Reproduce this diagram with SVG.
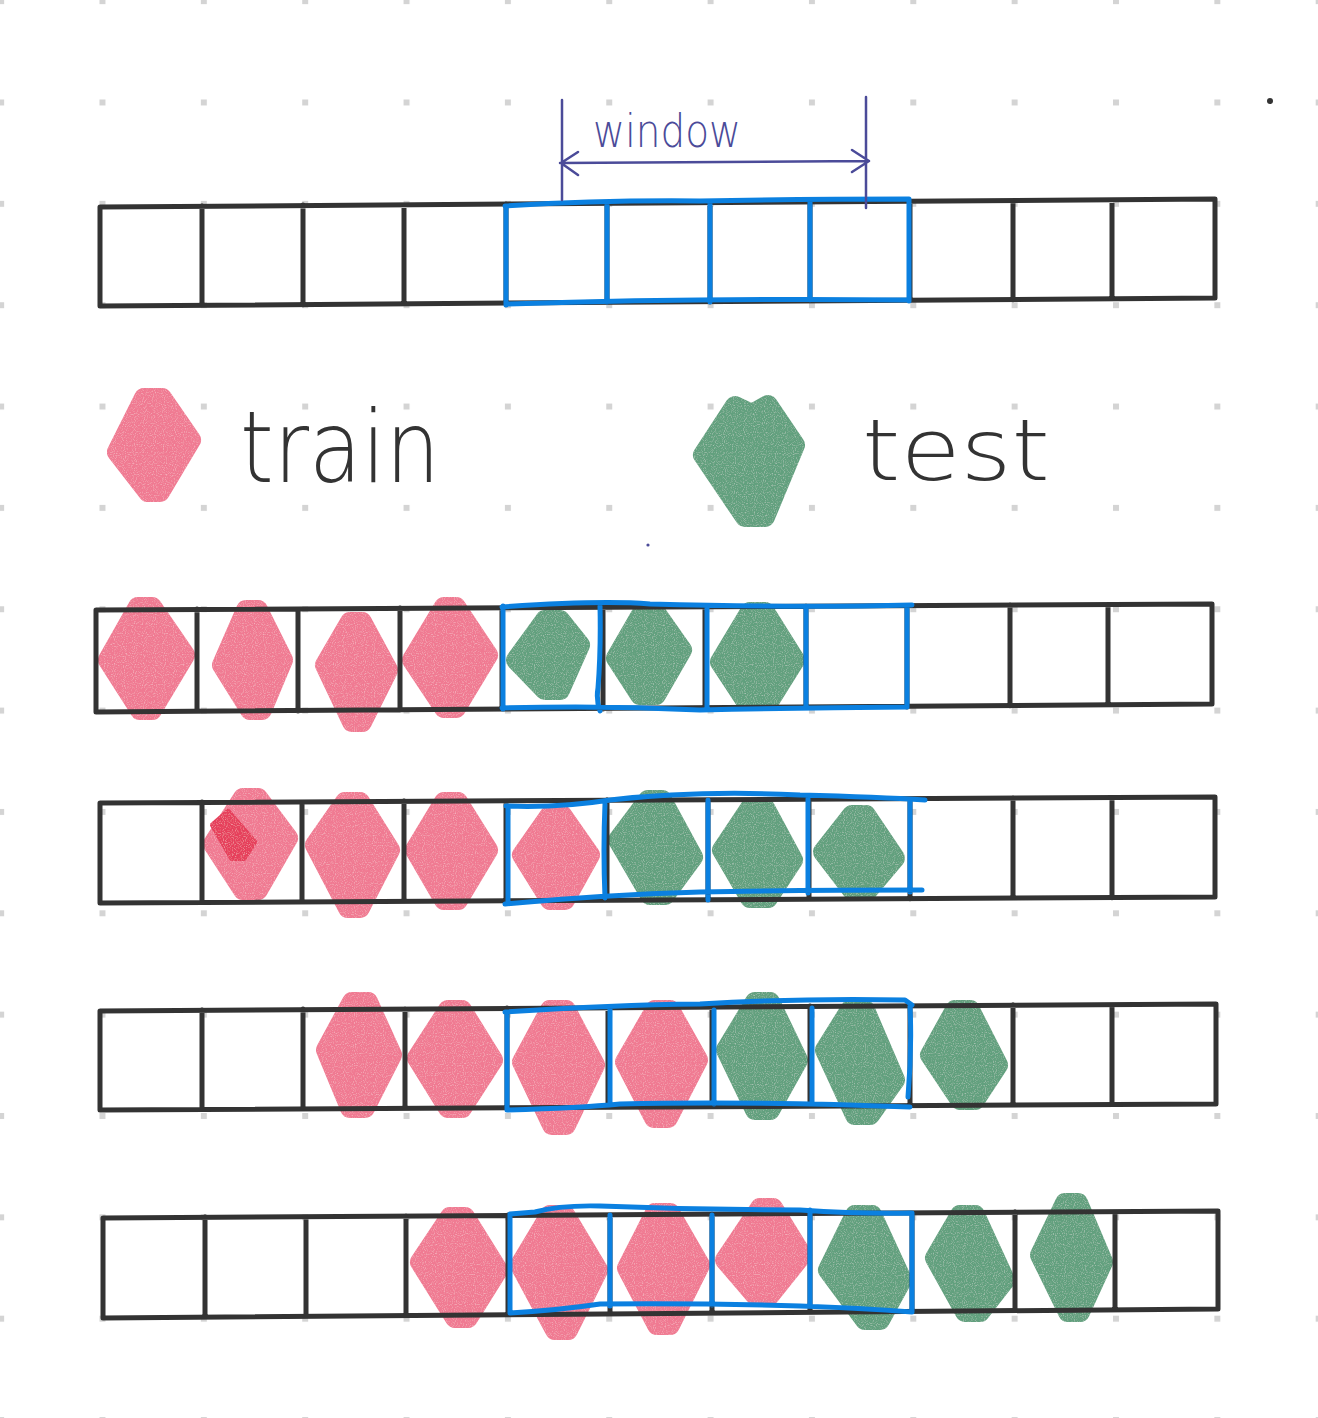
<svg xmlns="http://www.w3.org/2000/svg" width="1318" height="1418" viewBox="0 0 1318 1418">
<style>
.pink{fill:#f07a92;stroke:#f07a92;stroke-width:20;stroke-linejoin:round}
.green{fill:#62a07e;stroke:#62a07e;stroke-width:20;stroke-linejoin:round}
.grid{fill:none;stroke:#333;stroke-width:5;stroke-linecap:round;stroke-linejoin:round}
.win{fill:none;stroke:#0b80e0;stroke-width:5;stroke-linecap:round;stroke-linejoin:round}
.anno{fill:none;stroke:#4b4b99;stroke-width:2.5;stroke-linecap:round;stroke-linejoin:round}
.hand{font-family:"DejaVu Sans","Liberation Sans",sans-serif;font-weight:200;fill:#333}
</style>
<defs>
<pattern id="dots" patternUnits="userSpaceOnUse" x="-1.85" y="-1.85" width="101.35" height="101.35">
<rect x="0" y="0" width="6" height="6" fill="#d4d4d4"/>
</pattern>
<filter id="grain" filterUnits="userSpaceOnUse" x="0" y="0" width="1318" height="1418">
<feTurbulence type="fractalNoise" baseFrequency="0.9" numOctaves="1" seed="3" result="n"/>
<feColorMatrix in="n" type="matrix" values="0 0 0 0 1  0 0 0 0 1  0 0 0 0 1  0.9 0 0 0 -0.45" result="w"/>
<feComposite in="w" in2="SourceGraphic" operator="in" result="ws"/>
<feMerge><feMergeNode in="SourceGraphic"/><feMergeNode in="ws"/></feMerge>
</filter>
</defs>
<rect width="1318" height="1418" fill="#fff"/>
<rect width="1318" height="1418" fill="url(#dots)"/>

<g id="legend">
<g filter="url(#grain)">
<path class="pink" d="M117 452 L144 398 L162 398 L191 440 L160 492 L148 492 Z"/>
<path class="green" d="M703 455 L735 406 L752 414 L768 405 L795 445 L765 517 L745 517 Z"/>
</g>
<text class="hand" x="240" y="482" font-size="100" textLength="200" lengthAdjust="spacingAndGlyphs">train</text>
<text class="hand" x="862" y="480" font-size="85" textLength="188" lengthAdjust="spacingAndGlyphs">test</text>
</g>

<g id="blobs" filter="url(#grain)">
<path class="pink" d="M108 660 L138 607 L152 607 L185 655 L152 710 L140 710 Z"/>
<path class="pink" d="M222 665 L246 610 L258 610 L283 660 L262 710 L250 710 Z"/>
<path class="pink" d="M325 665 L350 622 L362 622 L388 670 L362 722 L352 722 Z"/>
<path class="pink" d="M412 660 L444 607 L456 607 L488 655 L456 708 L444 708 Z"/>
<path class="green" d="M516 660 L545 620 L560 620 L580 645 L560 690 L545 690 Z"/>
<path class="green" d="M616 658 L642 613 L656 613 L682 650 L656 695 L640 695 Z"/>
<path class="green" d="M720 662 L750 612 L765 612 L795 660 L770 700 L745 700 Z"/>

<path class="pink" d="M213 844 L243 798 L258 798 L288 838 L258 890 L243 890 Z"/>
<path d="M213 825 L228 812 L254 842 L244 858 L232 858 Z" fill="#e6405c" stroke="#e6405c" stroke-width="6" stroke-linejoin="round"/>
<path class="pink" d="M315 845 L345 802 L360 802 L390 850 L360 908 L348 908 Z"/>
<path class="pink" d="M415 850 L444 802 L458 802 L488 850 L458 900 L444 900 Z"/>
<path class="pink" d="M522 855 L550 815 L562 815 L590 855 L565 900 L550 900 Z"/>
<path class="green" d="M618 840 L648 800 L662 800 L693 857 L665 895 L650 895 Z"/>
<path class="green" d="M722 850 L750 808 L765 808 L793 860 L768 898 L750 898 Z"/>
<path class="green" d="M823 852 L852 815 L866 815 L895 858 L868 890 L852 890 Z"/>

<path class="pink" d="M326 1050 L352 1002 L368 1002 L392 1055 L365 1108 L350 1108 Z"/>
<path class="pink" d="M417 1058 L448 1010 L462 1010 L493 1060 L462 1108 L448 1108 Z"/>
<path class="pink" d="M522 1062 L550 1010 L566 1010 L595 1065 L566 1125 L552 1125 Z"/>
<path class="pink" d="M625 1062 L655 1010 L670 1010 L698 1060 L668 1118 L654 1118 Z"/>
<path class="green" d="M726 1050 L755 1002 L770 1002 L798 1060 L770 1110 L755 1110 Z"/>
<path class="green" d="M825 1050 L850 1010 L865 1010 L895 1080 L870 1115 L855 1115 Z"/>
<path class="green" d="M930 1055 L955 1010 L970 1010 L998 1065 L975 1100 L960 1100 Z"/>

<path class="pink" d="M420 1262 L450 1217 L465 1217 L498 1270 L468 1318 L455 1318 Z"/>
<path class="pink" d="M520 1265 L550 1215 L565 1215 L598 1270 L568 1330 L555 1330 Z"/>
<path class="pink" d="M627 1268 L655 1213 L670 1213 L700 1265 L670 1325 L657 1325 Z"/>
<path class="pink" d="M725 1260 L760 1208 L773 1208 L802 1255 L770 1295 L755 1295 Z"/>
<path class="green" d="M828 1270 L855 1215 L872 1215 L902 1280 L880 1320 L865 1320 Z"/>
<path class="green" d="M935 1258 L960 1215 L975 1215 L1005 1280 L980 1312 L965 1312 Z"/>
<path class="green" d="M1040 1255 L1065 1203 L1078 1203 L1103 1262 L1080 1312 L1068 1312 Z"/>
</g>

<g id="grids">
<path class="grid" d="M100 207 L1215 199 M100 306 L1215 298 M100 207 V306 M202 206 V305 M303 205 V305 M404 205 V304 M506 204 V303 M607 203 V302 M710 203 V302 M810 202 V301 M910 201 V300 M1013 201 V300 M1112 200 V299 M1215 199 V298"/>
<path class="grid" d="M96 610 L1212 604 M96 712 L1212 704 M96 610 V712 M197 609 V711 M298 609 V711 M400 608 V710 M502 608 V709 M603 607 V709 M705 607 V708 M806 606 V707 M907 606 V707 M1010 605 V706 M1108 605 V705 M1212 604 V704"/>
<path class="grid" d="M100 803 L1215 797 M100 903 L1215 897 M100 803 V903 M202 802 V902 M302 802 V902 M404 801 V901 M506 801 V901 M607 800 V900 M708 800 V900 M809 799 V899 M910 799 V899 M1013 798 V898 M1112 798 V898 M1215 797 V897"/>
<path class="grid" d="M100 1011 L1216 1004 M100 1110 L1216 1104 M100 1011 V1110 M202 1010 V1109 M303 1009 V1109 M405 1009 V1108 M507 1008 V1108 M608 1007 V1107 M712 1007 V1106 M810 1006 V1106 M910 1006 V1105 M1013 1005 V1105 M1112 1005 V1104 M1216 1004 V1104"/>
<path class="grid" d="M103 1218 L1218 1211 M103 1318 L1218 1309 M103 1218 V1318 M205 1217 V1317 M306 1217 V1316 M406 1216 V1315 M508 1215 V1314 M610 1215 V1313 M712 1214 V1313 M810 1213 V1312 M912 1213 V1311 M1015 1212 V1310 M1115 1212 V1310 M1218 1211 V1309"/>
</g>

<g id="windows">
<path class="win" d="M505 206 Q600 200 700 201 Q800 199 909 199 M506 304 Q700 298 909 300 M506 206 V305 M607 205 V302 M710 203 V302 M810 202 V300 M909 199 V301"/>
<path class="win" d="M502 607 Q600 600 650 604 Q800 608 912 605 M502 708 Q600 705 700 710 Q800 708 907 707 M503 606 V709 M600 606 Q601 650 598 688 Q596 700 600 711 M707 607 V710 M806 608 V707 M907 606 V707"/>
<path class="win" d="M506 806 Q560 808 610 800 Q700 790 800 795 Q880 797 925 800 M505 904 Q600 895 700 892 Q800 890 922 890 M508 806 V903 M605 804 Q603 850 605 898 M708 800 V900 M808 799 V893 M910 800 V892"/>
<path class="win" d="M505 1012 Q610 1005 700 1004 Q800 998 905 1000 L912 1005 M507 1110 Q580 1108 620 1104 Q750 1101 910 1107 M507 1012 V1110 M610 1008 V1105 M714 1010 V1104 M812 1008 V1104 M910 1006 Q912 1050 908 1097"/>
<path class="win" d="M510 1214 L535 1212 Q560 1205 600 1206 Q700 1210 800 1210 Q860 1214 912 1213 M510 1313 Q560 1310 600 1304 Q700 1303 800 1306 Q860 1308 912 1312 M510 1214 V1313 M610 1215 V1306 M712 1215 V1305 M810 1210 V1305 M912 1213 V1312"/>
</g>

<g id="window-label">
<path class="anno" d="M562 100 V200 M866 97 V208 M560 163 L869 161 M578 152 L561 163 L578 175 M852 150 L869 161 L852 172"/>
<text x="593" y="147" font-family="DejaVu Sans, Liberation Sans, sans-serif" font-weight="200" font-size="46" fill="#4b4b99" textLength="148" lengthAdjust="spacingAndGlyphs">window</text>
</g>

<circle cx="1270" cy="101" r="3" fill="#333"/>
<circle cx="648" cy="545" r="1.6" fill="#4b4b99"/>
</svg>
